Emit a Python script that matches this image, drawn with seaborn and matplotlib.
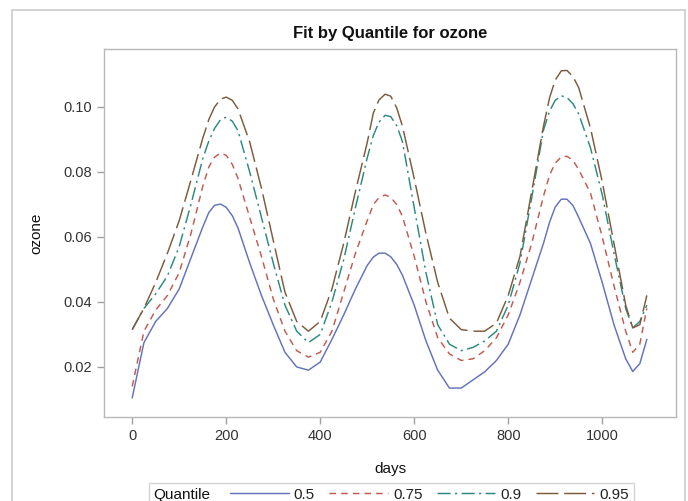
import matplotlib
matplotlib.use("Agg")
import matplotlib.pyplot as plt
from matplotlib.lines import Line2D
from matplotlib.patches import Rectangle
from matplotlib.offsetbox import HPacker
import pandas as pd
import seaborn as sns

# Fitted quantile curves of ozone against day number
days = [0, 25, 50, 75, 100, 125, 150, 163, 175, 188, 200, 213, 225, 250, 275,
        300, 325, 350, 375, 400, 425, 450, 475, 500, 513, 525, 538, 550, 563,
        575, 600, 625, 650, 675, 700, 725, 750, 775, 800, 825, 850, 875, 888,
        900, 913, 925, 938, 950, 975, 1000, 1025, 1050, 1065, 1080, 1095]

q50 = [0.0105, 0.0275, 0.034, 0.038, 0.044, 0.0535, 0.063, 0.0675, 0.0697,
       0.0701, 0.0691, 0.0665, 0.0628, 0.052, 0.042, 0.033, 0.0245, 0.020,
       0.019, 0.0215, 0.0285, 0.036, 0.044, 0.0512, 0.0538, 0.0550, 0.0550,
       0.0539, 0.0515, 0.0482, 0.039, 0.028, 0.019, 0.0135, 0.0135, 0.016,
       0.0185, 0.022, 0.027, 0.036, 0.047, 0.058, 0.0645, 0.0692, 0.0716,
       0.0716, 0.0696, 0.066, 0.058, 0.046, 0.033, 0.0225, 0.0186, 0.021,
       0.0285]

q75 = [0.014, 0.031, 0.0375, 0.042, 0.049, 0.061, 0.0755, 0.0815, 0.0845,
       0.0858, 0.0851, 0.0823, 0.078, 0.066, 0.054, 0.041, 0.031, 0.025, 0.023,
       0.0245, 0.031, 0.043, 0.055, 0.065, 0.0699, 0.0721, 0.0729, 0.0722,
       0.0699, 0.0663, 0.054, 0.040, 0.029, 0.024, 0.022, 0.0225, 0.025, 0.029,
       0.036, 0.046, 0.058, 0.0725, 0.079, 0.0827, 0.0846, 0.0848, 0.0835,
       0.0807, 0.0735, 0.060, 0.045, 0.031, 0.0245, 0.027, 0.038]

q90 = [0.0315, 0.038, 0.0425, 0.048, 0.057, 0.070, 0.084, 0.0895, 0.0933,
       0.0961, 0.0968, 0.0956, 0.0927, 0.080, 0.066, 0.052, 0.039, 0.031,
       0.0275, 0.030, 0.040, 0.053, 0.069, 0.0843, 0.0912, 0.0953, 0.0974,
       0.097, 0.0942, 0.0893, 0.069, 0.049, 0.033, 0.027, 0.025, 0.026, 0.028,
       0.031, 0.039, 0.052, 0.072, 0.0928, 0.0987, 0.1020, 0.1034, 0.1029,
       0.1009, 0.0978, 0.0874, 0.073, 0.055, 0.038, 0.032, 0.034, 0.039]

q95 = [0.0315, 0.038, 0.046, 0.055, 0.065, 0.0775, 0.0903, 0.0961, 0.0999,
       0.1024, 0.103, 0.102, 0.0994, 0.0892, 0.075, 0.059, 0.043, 0.034, 0.031,
       0.034, 0.044, 0.058, 0.074, 0.089, 0.0981, 0.1021, 0.1039, 0.1033,
       0.0996, 0.094, 0.078, 0.061, 0.046, 0.035, 0.0315, 0.031, 0.031, 0.0335,
       0.042, 0.054, 0.074, 0.094, 0.1028, 0.1082, 0.1111, 0.1112, 0.1093,
       0.1059, 0.0935, 0.077, 0.058, 0.039, 0.032, 0.033, 0.042]

quantiles = ["0.5", "0.75", "0.9", "0.95"]
series = [q50, q75, q90, q95]

df = pd.concat(
    [pd.DataFrame({"days": days, "ozone": s, "Quantile": q})
     for q, s in zip(quantiles, series)],
    ignore_index=True,
)

palette = {"0.5": "#6272bd", "0.75": "#c25a50", "0.9": "#2a8a7e", "0.95": "#7d5a3a"}
dash_map = {"0.5": "", "0.75": (4.5, 3.5), "0.9": (9, 3, 1.5, 3), "0.95": (15, 4)}
LW = 1.05

sns.set_style("white")
plt.rcParams["font.family"] = ["Liberation Sans", "DejaVu Sans"]

fig = plt.figure(figsize=(6.88, 5.01), dpi=100)
W, H = 688, 501
ax = fig.add_axes([104 / W, 1 - 417 / H, (676 - 104) / W, (417 - 49) / H])

sns.lineplot(data=df, x="days", y="ozone", hue="Quantile", style="Quantile",
             palette=palette, dashes=dash_map, hue_order=quantiles,
             style_order=quantiles, linewidth=LW, legend=False, ax=ax,
             sort=False)
for ln in ax.get_lines():
    ln.set_solid_joinstyle("round")
    ln.set_dash_joinstyle("round")

ax.set_xlim(-60, 1157)
ax.set_ylim(0.0046, 0.1178)
ax.set_xticks([0, 200, 400, 600, 800, 1000])
ax.set_yticks([0.02, 0.04, 0.06, 0.08, 0.10])
ax.set_yticklabels(["0.02", "0.04", "0.06", "0.08", "0.10"])

for sp in ax.spines.values():
    sp.set_color("#b8b8b8")
    sp.set_linewidth(1.0)
ax.tick_params(axis="both", which="major", length=5, width=1, color="#a0a0a0",
               labelsize=10.5, labelcolor="#333333", direction="out", pad=4,
               bottom=True, left=True)

ax.set_title("Fit by Quantile for ozone", fontsize=12, fontweight="bold",
             color="#111111", pad=8)
ax.set_xlabel("days", fontsize=11, color="#111111", labelpad=13)
ax.set_ylabel("ozone", fontsize=11, color="#111111", labelpad=14)

# Outer frame around the graph
fig.patches.append(Rectangle((12 / W, -0.05), (685 - 12) / W, 1.05 - 10 / H,
                             transform=fig.transFigure, fill=False,
                             edgecolor="#d2d2d2", linewidth=1.4))

# Legend with the title placed to the left of the entries
handles = [Line2D([], [], color=palette[q], linewidth=LW,
                  linestyle=(0, dash_map[q]) if dash_map[q] else "-")
           for q in quantiles]
leg = fig.legend(handles, quantiles, title="Quantile", ncol=4,
                 loc="upper left", bbox_to_anchor=(149 / W, 1 - 483 / H),
                 frameon=True, fancybox=False, fontsize=11,
                 title_fontsize=11, handlelength=3.8, handletextpad=0.35,
                 columnspacing=0.95, borderpad=0.12, borderaxespad=0)
leg.get_frame().set_edgecolor("#c8c8c8")
leg.get_frame().set_linewidth(1.0)
for t in leg.get_texts():
    t.set_color("#222222")
leg.get_title().set_color("#111111")
fs = leg._fontsize
leg._legend_box = HPacker(pad=0.3 * fs, sep=1.3 * fs, align="center",
                          children=[leg._legend_title_box, leg._legend_handle_box])
leg._legend_box.set_figure(fig)
leg._legend_box.axes = None
leg._legend_box.set_offset(leg._findoffset)

fig.savefig("out.png", dpi=100)
